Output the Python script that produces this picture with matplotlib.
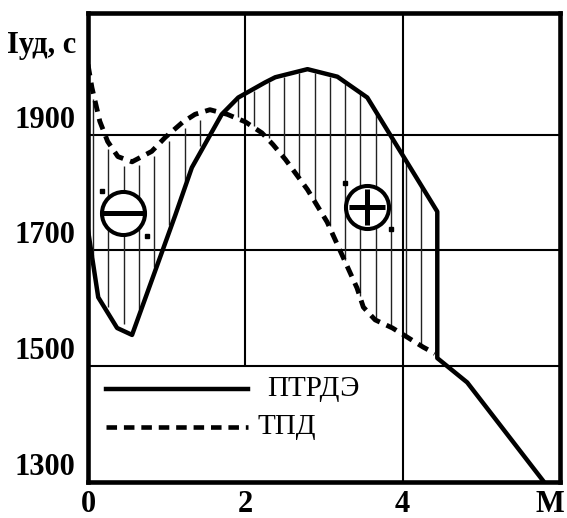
import numpy as np
import matplotlib
matplotlib.use("Agg")

import matplotlib.pyplot as plt
from matplotlib.transforms import ScaledTranslation

# specific impulse vs Mach number, two engine types
mach_ptrde = [0.0, 0.13, 0.37, 0.56, 1.11, 1.32, 1.70, 1.91, 2.25, 2.38,
              2.79, 3.17, 3.55, 4.44, 4.44, 4.82, 5.78]
isp_ptrde = [1735, 1619, 1566, 1554, 1761, 1843, 1935, 1964, 1990, 1999,
             2013, 2000, 1964, 1767, 1514, 1472, 1303]

mach_tpd = [0.0, 0.05, 0.15, 0.25, 0.38, 0.56, 0.81, 0.98, 1.20, 1.36,
            1.55, 1.77, 2.00, 2.21, 2.35, 2.51, 2.79, 3.04, 3.23, 3.42,
            3.50, 3.65, 3.87, 4.06, 4.26, 4.41]
isp_tpd = [2021, 1981, 1923, 1888, 1862, 1853, 1871, 1895, 1921, 1935,
           1943, 1935, 1922, 1903, 1883, 1857, 1805, 1749, 1692, 1635,
           1602, 1580, 1566, 1550, 1533, 1522]

x_ticks = [0, 2, 4, 6]
x_labels = ["0", "2", "4", "M"]
y_ticks = [1300, 1500, 1700, 1900]
y_labels = ["1300", "1500", "1700", "1900"]
legend_names = ["ПТРДЭ", "ТПД"]

plt.rcParams["font.family"] = ["Liberation Serif", "DejaVu Serif"]

W, H = 567, 518
fig = plt.figure(figsize=(W / 100, H / 100), dpi=100)
ax = fig.add_axes([88 / W, 1 - 482 / H, (560 - 88) / W, (482 - 13) / H])
ax.set_xlim(0, 6)
ax.set_ylim(1300, 2110)

for sp in ax.spines.values():
    sp.set_linewidth(3.3)
    sp.set_color("black")

# grid (the line at M=2 stops at the legend box)
for yv in (1500, 1700, 1900):
    ax.axhline(yv, color="black", lw=1.5, zorder=1)
ax.axvline(4, color="black", lw=1.5, zorder=1)
ax.vlines(2, 1500, 2110, color="black", lw=1.5, zorder=1)

# hatching between the curves
hatch_left = np.arange(0.064, 1.45, 0.194)
hatch_right = np.arange(1.91, 4.30, 0.194)
for xs, inset in ((hatch_left, 12), (hatch_right, 3)):
    a = np.interp(xs, mach_tpd, isp_tpd)
    b = np.interp(xs, mach_ptrde, isp_ptrde)
    top = np.maximum(a, b) - inset
    bot = np.minimum(a, b) + inset
    ax.vlines(xs, bot, top, color="#222222", lw=1.0, zorder=2)

dash = (2.3, 1.5)
ax.plot(mach_ptrde, isp_ptrde, color="black", lw=3.2, zorder=4)
ax.plot(mach_tpd, isp_tpd, color="black", lw=3.5, dashes=dash, zorder=4)

# sign markers
for (cx, cy), sign, ms in (((0.445, 1765), "_", 29), ((3.55, 1775), "+", 26)):
    ax.plot(cx, cy, marker="o", ms=31, mfc="white", mec="black", mew=2.9,
            zorder=5)
    ax.plot(cx, cy, marker=sign, ms=ms, mec="black", mew=3.6, zorder=6)
ax.plot([0.18, 0.75], [1803, 1725], ls="none", marker="s", ms=3, color="black",
        zorder=6)
ax.plot([3.27, 3.85], [1816, 1737], ls="none", marker="s", ms=3, color="black",
        zorder=6)

# legend
ax.plot([0.23, 2.04], [1460, 1460], color="black", lw=3.2, zorder=4)
ax.plot([0.23, 2.04], [1395, 1395], color="black", lw=3.3, dashes=dash,
        zorder=4)
ax.text(2.28, 1460, legend_names[0], fontsize=21, va="center", ha="left")
ax.text(2.16, 1395, legend_names[1], fontsize=21, va="center", ha="left")

ax.set_xticks(x_ticks)
ax.set_xticklabels(x_labels, fontsize=22, fontweight="bold")
ax.set_yticks(y_ticks)
ax.set_yticklabels(y_labels, fontsize=22, fontweight="bold")
ax.tick_params(length=0)
ax.tick_params(axis="x", pad=6)
ax.tick_params(axis="y", pad=9)
shift = ScaledTranslation(0, 13 / 72, fig.dpi_scale_trans)
for lab in ax.get_yticklabels():
    lab.set_transform(lab.get_transform() + shift)
m_lab = ax.get_xticklabels()[-1]
m_lab.set_transform(m_lab.get_transform()
                    + ScaledTranslation(-7 / 72, 0, fig.dpi_scale_trans))

fig.text(7 / W, 1 - 45 / H, "Iуд, с", fontsize=22, fontweight="bold",
         va="center", ha="left")

fig.savefig("out.png", dpi=100)
plt.close(fig)
